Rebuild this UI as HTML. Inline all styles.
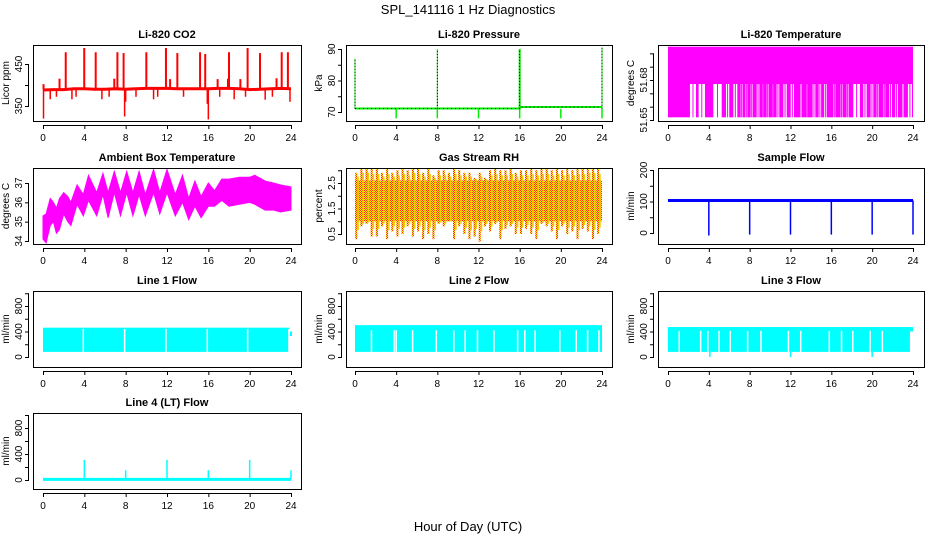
<!DOCTYPE html>
<html><head><meta charset="utf-8">
<style>
body{margin:0;background:#fff;}
svg{display:block;font-family:"Liberation Sans",sans-serif;}
</style></head>
<body>
<svg id="chart" width="936" height="540" viewBox="0 0 936 540">
<defs>
<pattern id="rhpat" width="2" height="2" patternUnits="userSpaceOnUse">
<rect width="2" height="2" fill="#ffee00"/><rect width="1" height="1" fill="#ff2a00"/><rect x="1" y="1" width="1" height="1" fill="#ff2a00"/>
</pattern>
</defs>
<text x="468" y="14" text-anchor="middle" font-size="13">SPL_141116  1 Hz Diagnostics</text>
<text x="468" y="531" text-anchor="middle" font-size="13">Hour of Day (UTC)</text>
</svg>
<script>
// ---------- data ----------
const xTicks = [0,4,8,12,16,20,24];
const panelTitles = ["Li-820 CO2","Li-820 Pressure","Li-820 Temperature","Ambient Box Temperature","Gas Stream RH","Sample Flow","Line 1 Flow","Line 2 Flow","Line 3 Flow","Line 4 (LT) Flow"];
const yLabels = ["Licor ppm","kPa","degrees C","degrees C","percent","ml/min","ml/min","ml/min","ml/min","ml/min"];

const co2BaseTimes = [0,1,2,3,4,5,6,7,8,9,10,11,12,13,14,15,16,17,18,19,20,21,22,23,24];
const co2BaseVals = [388,389,389,391,391,390,390,391,390,391,392,392,392,391,391,391,391,392,392,391,389,390,391,392,391];
const co2SpikeTimes = [2.2,3.99,5.1,7.2,7.8,10.0,11.9,13.0,15.2,15.7,18.0,19.8,21.0,23.1,23.7,1.6,6.9,12.3,16.9,17.9,19.1,22.6,0.05];
const co2SpikeVals = [478,488,478,478,476,478,488,476,478,474,478,488,476,478,478,415,415,414,414,415,414,416,402];
const co2DipTimes = [0.05,0.7,1.3,2.8,3.2,5.7,6.4,7.9,8.0,9.0,10.7,11.1,13.6,15.9,16.0,17.1,18.5,19.6,21.5,22.2,23.9];
const co2DipVals = [320,366,372,366,372,366,372,325,360,372,366,372,372,355,318,372,366,372,365,372,360];

const presTimes = [0,16,16.01,24];
const presVals = [71.1,71.1,71.6,71.6];
const presSpikeTimes = [0,8,16,24];
const presSpikeVals = [87,90,90,90.5];
const presDipTimes = [4,8,12,16,20,24];
const presDipVals = [68,68,68,68,68,68];

const tempTop = 51.705, tempMid = 51.677, tempBottom = 51.652;
const tempGapStarts = [2.15,3.0,4.44,5.68,6.4,7.12,7.57,8.1,8.69,9.28,9.67,10.26,10.64,11.3,12.02,12.93,13.58,14.17,14.76,15.28,16.19,16.91,17.5,18.15,19.13,19.85,20.44,21.09,21.67,22.26,22.92,23.5];
const tempGapEnds = [2.74,3.62,5.26,6.0,6.79,7.31,7.77,8.3,8.95,9.4,9.86,10.38,10.9,11.63,12.34,13.12,13.71,14.43,15.0,15.54,16.39,17.1,17.7,18.8,19.46,20.11,20.64,21.28,21.94,22.53,23.12,23.9];

const ambTimes = [0,0.3,0.7,1.0,1.3,1.6,2.0,2.4,2.7,3.3,3.9,4.4,5.2,5.8,6.3,6.9,7.5,8.1,8.7,9.3,9.9,10.7,11.3,12.0,12.8,13.5,14.1,14.7,15.3,16.0,16.6,17.3,18.0,19.0,20.0,20.5,21.5,22.3,23.0,24.0];
const ambHi = [35.3,35.4,36.2,36.0,35.7,36.2,36.5,36.3,36.0,36.9,36.4,37.4,36.5,37.5,36.5,37.6,36.5,37.6,36.5,37.6,36.4,37.7,36.5,37.7,36.4,37.4,36.2,37.1,36.3,37.0,36.6,37.2,37.2,37.3,37.3,37.4,37.1,37.0,36.9,36.8];
const ambLo = [34.1,33.9,34.8,35.0,34.4,34.6,35.4,35.0,34.8,35.9,35.3,36.1,35.3,36.4,35.2,36.5,35.3,36.5,35.3,36.4,35.3,36.5,35.4,36.5,35.3,36.0,35.1,35.8,35.2,35.8,35.8,36.1,35.8,35.9,36.0,35.9,35.6,35.6,35.5,35.6];

const rhTimes = [0,0.5,1,1.5,2,2.5,3,3.5,4,4.5,5,5.5,6,6.5,7,7.5,8,8.5,9,9.5,10,10.5,11,11.5,12,12.5,13,13.5,14,14.5,15,15.5,16,16.5,17,17.5,18,18.5,19,19.5,20,20.5,21,21.5,22,22.5,23,23.5,24];
const rhHi = [2.9,3.2,3.2,3.1,3.1,2.9,3.1,2.9,3.0,3.1,3.0,3.2,3.1,2.9,3.1,2.8,3.0,3.0,2.9,3.1,3.0,2.9,2.9,2.7,2.9,2.7,3.0,3.1,3.0,3.0,3.1,2.9,3.0,3.0,3.1,3.0,3.1,3.1,3.0,3.1,3.0,3.1,3.0,3.1,3.1,3.2,3.2,3.1,2.2];
const rhLo = [0.3,0.8,0.9,0.4,0.4,0.8,0.3,0.6,0.4,0.5,0.8,0.4,0.6,0.3,0.5,0.3,0.9,0.8,1.0,0.3,0.8,0.5,0.3,0.4,0.2,0.8,0.6,0.9,0.3,0.7,0.8,0.5,0.5,0.7,0.5,0.3,0.9,0.8,0.6,0.3,0.8,0.5,0.6,0.3,0.7,0.6,0.3,0.5,0.7];

const sampleBase = 103;
const sampleDipTimes = [4,8,12,16,20,24];
const sampleDipVals = [-8,-5,-5,-5,-5,-5];

const line1Lo = 80, line1Hi = 460;
const line1GapTimes = [3.9,7.9,11.9,15.9,19.8,23.8];
const line2Lo = 80, line2Hi = 500;
const line2GapTimes = [1.6,3.8,4.0,5.6,7.9,9.6,10.7,11.9,13.5,15.8,16.5,17.5,19.9,21.5,22.6,23.7];
const line3Lo = 80, line3Hi = 470;
const line3GapTimes = [1.1,3.2,3.9,5.0,6.1,7.8,9.1,11.8,13.0,15.8,17.0,18.1,19.8,21.0];
const line3DipTimes = [4.1,12.0,20.0];
const line3DipVals = [0,0,0];

const line4Base = 10;
const line4SpikeTimes = [4,8,12,16,20,24];
const line4SpikeVals = [310,150,310,150,310,150];

// ---------- layout ----------
const NS="http://www.w3.org/2000/svg";
const svg=document.getElementById('chart');
const colBox=[[33,301],[346,612],[658,924]];
const colX=[[43,291],[355,602],[668,913]];
const rowBox=[[45,121],[168,244],[291,367],[413,489]];
function el(tag,attrs,parent){const e=document.createElementNS(NS,tag);for(const k in attrs)e.setAttribute(k,attrs[k]);(parent||svg).appendChild(e);return e;}
let clipN=0;
function makePanel(idx,row,col,yCal,yTicks,yLabTicks){
  const [L,R]=colBox[col],[T,B]=rowBox[row];
  const g=el('g',{});
  
  
  const [x0,x24]=colX[col];
  const xs=t=>x0+t*(x24-x0)/24;
  const ys=v=>yCal[1]+(v-yCal[0])*(yCal[3]-yCal[1])/(yCal[2]-yCal[0]);
  clipN++;
  const cp=el('clipPath',{id:'c'+clipN},g);el('rect',{x:L,y:T,width:R-L,height:B-T},cp);
  const plot=el('g',{'clip-path':'url(#c'+clipN+')'},g);
  
  
  const frame=el('rect',{x:L+0.5,y:T+0.5,width:R-L,height:B-T,fill:'none',stroke:'#000','stroke-width':1},g);
  
  
  const t=el('text',{x:(L+R)/2,y:T-7,'text-anchor':'middle','font-size':11,'font-weight':'bold'},g);t.textContent=panelTitles[idx];
  
  
  // x axis
  el('line',{x1:xs(0),x2:xs(24),y1:B+4.5,y2:B+4.5,stroke:'#000'},g);
  xTicks.forEach(v=>{
    el('line',{x1:xs(v)+0.5,x2:xs(v)+0.5,y1:B+4,y2:B+8,stroke:'#000'},g);
    const tx=el('text',{x:xs(v),y:B+20,'text-anchor':'middle','font-size':10},g);tx.textContent=v;
    
    
  });
  // y axis
  el('line',{x1:L-4.5,x2:L-4.5,y1:ys(yTicks[0]),y2:ys(yTicks[yTicks.length-1]),stroke:'#000'},g);
  yTicks.forEach(v=>{
    el('line',{x1:L-8,x2:L-4,y1:ys(v)+0.5,y2:ys(v)+0.5,stroke:'#000'},g);
  });
  yLabTicks.forEach(v=>{
    const ty=el('text',{x:0,y:0,'text-anchor':'middle','font-size':10,transform:`translate(${L-11},${ys(v)}) rotate(-90)`},g);ty.textContent=v;
    
    
  });
  const yl=el('text',{x:0,y:0,'text-anchor':'middle','font-size':10,transform:`translate(${L-24},${(T+B)/2}) rotate(-90)`},g);yl.textContent=yLabels[idx];
  
  
  return {plot,xs,ys,T,B};
}
function vline(p,t,v1,v2,color,w,name){
  const l=el('line',{x1:p.xs(t),x2:p.xs(t),y1:p.ys(v1),y2:p.ys(v2),stroke:color,'stroke-width':w},p.plot);
  
  
  return l;
}
function polyl(p,ts,vs,color,w,name,dash){
  const pl=el('polyline',{points:ts.map((t,i)=>p.xs(t)+','+p.ys(vs[i])).join(' '),fill:'none',stroke:color,'stroke-width':w},p.plot);
  if(dash)pl.setAttribute('stroke-dasharray',dash);
  
  
}
function band(p,t1,t2,lo,hi,fill,name){
  const r=el('rect',{x:p.xs(t1),y:p.ys(hi),width:p.xs(t2)-p.xs(t1),height:p.ys(lo)-p.ys(hi),fill:fill},p.plot);
  
  
}

// 1 CO2
let p=makePanel(0,0,0,[350,106,450,64],[350,400,450],[350,450]);
co2SpikeTimes.forEach((t,i)=>vline(p,t,390,co2SpikeVals[i],'#ff0000',2,'co2-spike'));
co2DipTimes.forEach((t,i)=>vline(p,t,390,co2DipVals[i],'#ff0000',1.5,'co2-dip'));
polyl(p,co2BaseTimes,co2BaseVals,'#ff0000',3,'co2-line');

// 2 Pressure
p=makePanel(1,0,1,[70,112,90,49],[70,75,80,85,90],[70,80,90]);
presDipTimes.forEach((t,i)=>vline(p,t,71,presDipVals[i],'#00ee00',1.5,'pressure-dip'));
polyl(p,presTimes,presVals,'#00ee00',2,'pressure-line');
polyl(p,presTimes,presVals,'#000',1,'pressure-line-dots','1 3');
presSpikeTimes.forEach((t,i)=>{vline(p,t,71,presSpikeVals[i],'#00ee00',i==2?2:1,'pressure-spike');vline(p,t,71,presSpikeVals[i],'#000',1,'pressure-spike-dots').setAttribute('stroke-dasharray','1 2');});

// 3 Temperature
p=makePanel(2,0,2,[51.65,120,51.68,80],[51.65,51.66,51.67,51.68,51.69,51.70],[51.65,51.68]);
band(p,0,24,tempBottom,tempTop,'#ff00ff','temperature-band');
tempGapStarts.forEach((t,i)=>band(p,t,tempGapEnds[i],tempBottom-0.001,tempMid,'#ffffff','temperature-gap'));
tempGapStarts.forEach((t,i)=>vline(p,(t+tempGapEnds[i])/2,tempBottom,tempMid,'#ff00ff',1,'temperature-low-reading'));

// 4 Ambient
p=makePanel(3,1,0,[34,241,37,183],[34,35,36,37],[34,35,36,37]);
{const pts=ambTimes.map((t,i)=>p.xs(t)+','+p.ys(ambHi[i])).concat(ambTimes.map((t,i)=>p.xs(t)+','+p.ys(ambLo[i])).reverse());
const pg=el('polygon',{points:pts.join(' '),fill:'#ff00ff',stroke:'#ff00ff','stroke-width':1},p.plot);

}

// 5 RH
p=makePanel(4,1,1,[0.5,234,2.5,183],[0.5,1,1.5,2,2.5,3],[0.5,1.5,2.5]);
rhTimes.forEach((t,i)=>{if(i<rhTimes.length-1){
  band(p,t,rhTimes[i+1],1.0,2.6,'url(#rhpat)','rh-band');
  vline(p,t+0.12,rhLo[i],rhHi[i],'url(#rhpat)',2,'rh-range');
  vline(p,t+0.3,(rhLo[i]+1)/2,(rhHi[i]+2.6)/2,'#ffcc00',1.5,'rh-range');
}});

// 6 Sample flow
p=makePanel(5,1,2,[0,233,200,170],[0,50,100,150,200],[0,100,200]);
sampleDipTimes.forEach((t,i)=>vline(p,t,sampleBase,sampleDipVals[i],'#0000ff',1.5,'sample-flow-dip'));
polyl(p,[0,24],[sampleBase,sampleBase],'#0000ff',3,'sample-flow-line');

// 7-9 Line flows
const flowTicks=[0,200,400,600,800,1000],flowLab=[0,400,800];
p=makePanel(6,2,0,[0,357,800,306],flowTicks,flowLab);
band(p,0,24,line1Lo,line1Hi,'#00ffff','line1-flow-band');
line1GapTimes.forEach(t=>vline(p,t,line1Lo,line1Hi-20,'#fff',1.5,'line1-flow-gap'));
band(p,23.85,24,line1Lo,line1Hi,'#fff','line1-end');vline(p,24,330,400,'#00ffff',2,'line1-end-stub');
p=makePanel(7,2,1,[0,357,800,306],flowTicks,flowLab);
band(p,0,24,line2Lo,line2Hi,'#00ffff','line2-flow-band');
line2GapTimes.forEach(t=>vline(p,t,line2Lo,line2Hi-80,'#fff',1.5,'line2-flow-gap'));
p=makePanel(8,2,2,[0,357,800,306],flowTicks,flowLab);
band(p,0,23.7,line3Lo,line3Hi,'#00ffff','line3-flow-band');
band(p,23.7,24,line3Hi-70,line3Hi,'#00ffff','line3-flow-tail');
line3GapTimes.forEach(t=>vline(p,t,line3Lo,line3Hi-60,'#fff',1.5,'line3-flow-gap'));
line3DipTimes.forEach((t,i)=>vline(p,t,line3Lo,line3DipVals[i],'#00ffff',1.5,'line3-flow-dip'));

// 10 Line 4
p=makePanel(9,3,0,[0,480,400,454],flowTicks,flowLab);
line4SpikeTimes.forEach((t,i)=>vline(p,t,line4Base,line4SpikeVals[i],'#00ffff',1.5,'line4-flow-spike'));
polyl(p,[0,24],[line4Base,line4Base],'#00ffff',3,'line4-flow-line');
</script>
</body></html>
